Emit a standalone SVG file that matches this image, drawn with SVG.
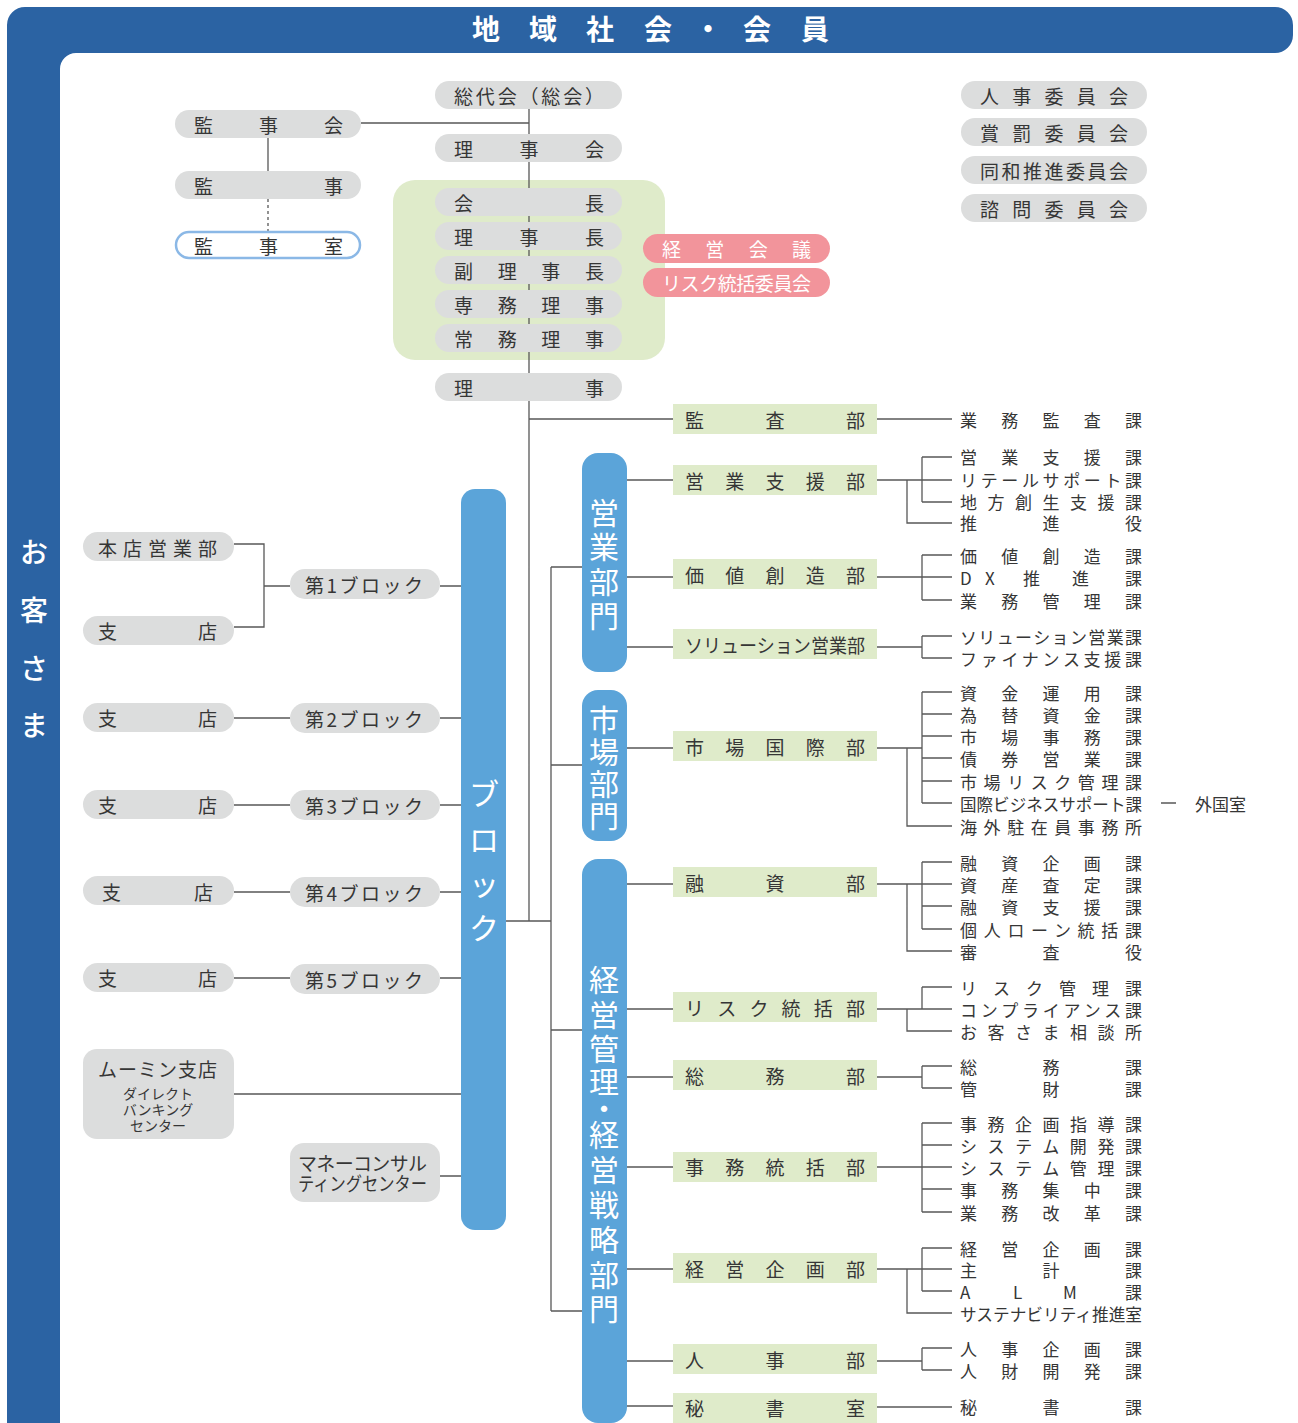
<svg xmlns="http://www.w3.org/2000/svg" width="1298" height="1423" viewBox="0 0 1298 1423">
<style>
.t{font-family:"Noto Sans CJK JP","Noto Sans",sans-serif;fill:#363636;font-size:19px;dominant-baseline:central}
.s{font-size:17px}
.v{font-size:30px}
.h{font-size:28px}
.m{font-size:14px}
.w{fill:#fff}
.p{fill:#dcdddd}
.g{fill:#dfebca}
.b{fill:#5ba4d9}
.k{fill:#f2949b}
.ln{stroke:#585858;stroke-width:1.3;fill:none}
</style>
<g id="frame">
<path d="M25 7H1275A18 18 0 0 1 1293 25V35A18 18 0 0 1 1275 53H76A16 16 0 0 0 60 69V1423H7V25A18 18 0 0 1 25 7Z" fill="#2b63a3"/>
<text class="t h w" font-weight="bold" text-anchor="middle" x="486 543 600 658 708 757 815" y="28">地域社会・会員</text>
<text class="t h w" font-weight="500" text-anchor="middle" x="34 34 34 34" y="551 609 667 724">お客さま</text>
</g>
<g id="exec-box"><rect class="g" x="393" y="180" width="272" height="180" rx="22"/></g>
<g id="connectors" class="ln">
<path d="M529 109V921M361 123H529M268 138V171M506 921H551M551 567V1311M551 567H582M551 765H582M551 1030H582M551 1311H582M529 419H673"/>
<path d="M268 199V232" stroke-dasharray="3 3"/>
<path d="M627 480H673M627 577H673M627 647H673M627 748H673M627 884H673M627 1009H673M627 1077H673M627 1167H673M627 1269H673M627 1361H673M627 1406H673"/>
<path d="M877 419H952"/>
<path d="M877 480H952M922 457V502M922 457H952M922 502H952M907 480V523H952"/>
<path d="M877 577H952M922 555V600M922 555H952M922 600H952"/>
<path d="M877 647H922M922 636V658M922 636H952M922 658H952"/>
<path d="M877 748H922M922 692V803M922 692H952M922 714H952M922 736H952M922 758H952M922 781H952M922 803H952M907 748V826H952M1161 803H1176"/>
<path d="M877 884H952M922 862V929M922 862H952M922 906H952M922 929H952M907 884V951H952"/>
<path d="M877 1009H952M922 987V1009M922 987H952M907 1009V1031H952"/>
<path d="M877 1077H922M922 1066V1088M922 1066H952M922 1088H952"/>
<path d="M877 1167H952M922 1123V1212M922 1123H952M922 1145H952M922 1189H952M922 1212H952"/>
<path d="M877 1269H952M922 1248V1291M922 1248H952M922 1291H952M907 1269V1313H952"/>
<path d="M877 1361H922M922 1348V1370M922 1348H952M922 1370H952"/>
<path d="M877 1407H952"/>
<path d="M234 544H264V627H234M264 586H290M440 586H461M234 718H290M440 718H461M234 805H290M440 805H461M234 892H290M440 892H461M234 978H290M440 978H461M234 1094H461M440 1176H461"/>
</g>
<g id="n-soudaikai"><rect class="p" x="435" y="81" width="187" height="28" rx="14"/><text class="t" x="454" y="95" textLength="150">総代会（総会）</text></g>
<g id="n-rijikai"><rect class="p" x="435" y="134" width="187" height="28" rx="14"/><text class="t" x="454" y="148" textLength="150">理事会</text></g>
<g id="n-kaicho"><rect class="p" x="435" y="188" width="187" height="28" rx="14"/><text class="t" x="454" y="202" textLength="150">会長</text></g>
<g id="n-rijicho"><rect class="p" x="435" y="222" width="187" height="28" rx="14"/><text class="t" x="454" y="236" textLength="150">理事長</text></g>
<g id="n-fukurijicho"><rect class="p" x="435" y="256" width="187" height="28" rx="14"/><text class="t" x="454" y="270" textLength="150">副理事長</text></g>
<g id="n-senmu"><rect class="p" x="435" y="290" width="187" height="28" rx="14"/><text class="t" x="454" y="304" textLength="150">専務理事</text></g>
<g id="n-jomu"><rect class="p" x="435" y="324" width="187" height="28" rx="14"/><text class="t" x="454" y="338" textLength="150">常務理事</text></g>
<g id="n-riji"><rect class="p" x="435" y="373" width="187" height="28" rx="14"/><text class="t" x="454" y="387" textLength="150">理事</text></g>
<g id="n-kanjikai"><rect class="p" x="175" y="110" width="186" height="28" rx="14"/><text class="t" x="194" y="124" textLength="149">監事会</text></g>
<g id="n-kanji"><rect class="p" x="175" y="171" width="186" height="28" rx="14"/><text class="t" x="194" y="185" textLength="149">監事</text></g>
<g id="n-kanjishitsu"><rect x="176" y="232" width="184" height="26" rx="13" fill="#fff" stroke="#8bb8e6" stroke-width="2.5"/><text class="t" x="194" y="245" textLength="149">監事室</text></g>
<g id="n-keieikaigi"><rect class="k" x="643" y="234" width="187" height="29" rx="14.5"/><text class="t w" x="662" y="248.5" textLength="149">経営会議</text></g>
<g id="n-risk-iinkai"><rect class="k" x="643" y="268" width="187" height="29" rx="14.5"/><text class="t w" x="662" y="282.5" textLength="149">リスク統括委員会</text></g>
<g id="n-jinji-iinkai"><rect class="p" x="961" y="81" width="186" height="28" rx="14"/><text class="t" x="980" y="95" textLength="148">人事委員会</text></g>
<g id="n-shobatsu"><rect class="p" x="961" y="118" width="186" height="28" rx="14"/><text class="t" x="980" y="132" textLength="148">賞罰委員会</text></g>
<g id="n-dowa"><rect class="p" x="961" y="156" width="186" height="28" rx="14"/><text class="t" x="980" y="170" textLength="148">同和推進委員会</text></g>
<g id="n-shimon"><rect class="p" x="961" y="194" width="186" height="28" rx="14"/><text class="t" x="980" y="208" textLength="148">諮問委員会</text></g>
<g id="d-eigyo"><rect class="b" x="582" y="453" width="45" height="219" rx="16"/><text class="t v w" text-anchor="middle" x="604 604 604 604" y="511 545 580 614">営業部門</text></g>
<g id="d-shijo"><rect class="b" x="582" y="690" width="45" height="151" rx="16"/><text class="t v w" text-anchor="middle" x="604 604 604 604" y="718 750 782 814">市場部門</text></g>
<g id="d-keiei"><rect class="b" x="582" y="859" width="45" height="564" rx="16"/><text class="t v w" text-anchor="middle" x="604 604 604 604 604 604 604 604 604 604 604" y="978 1013 1047 1080 1107 1133 1168 1203 1238 1273 1307">経営管理・経営戦略部門</text></g>
<g id="d-block"><rect class="b" x="461" y="489" width="45" height="741" rx="14"/><text class="t v w" text-anchor="middle" x="484 484 484 484" y="792 838 882 926">ブロック</text></g>
<g id="b-kansa"><rect class="g" x="673" y="404" width="204" height="30"/><text class="t" x="685" y="419" textLength="180">監査部</text></g>
<g id="b-eigyoshien"><rect class="g" x="673" y="465" width="204" height="30"/><text class="t" x="685" y="480" textLength="180">営業支援部</text></g>
<g id="b-kachi"><rect class="g" x="673" y="559" width="204" height="30"/><text class="t" x="685" y="574" textLength="180">価値創造部</text></g>
<g id="b-solution"><rect class="g" x="673" y="629" width="204" height="30"/><text class="t" x="685" y="644" textLength="180" lengthAdjust="spacingAndGlyphs">ソリューション営業部</text></g>
<g id="b-shijokokusai"><rect class="g" x="673" y="731" width="204" height="30"/><text class="t" x="685" y="746" textLength="180">市場国際部</text></g>
<g id="b-yushi"><rect class="g" x="673" y="867" width="204" height="30"/><text class="t" x="685" y="882" textLength="180">融資部</text></g>
<g id="b-risk"><rect class="g" x="673" y="992" width="204" height="30"/><text class="t" x="685" y="1007" textLength="180">リスク統括部</text></g>
<g id="b-somu"><rect class="g" x="673" y="1060" width="204" height="30"/><text class="t" x="685" y="1075" textLength="180">総務部</text></g>
<g id="b-jimu"><rect class="g" x="673" y="1152" width="204" height="30"/><text class="t" x="685" y="1166" textLength="180">事務統括部</text></g>
<g id="b-keieikikaku"><rect class="g" x="673" y="1253" width="204" height="30"/><text class="t" x="685" y="1268" textLength="180">経営企画部</text></g>
<g id="b-jinji"><rect class="g" x="673" y="1344" width="204" height="30"/><text class="t" x="685" y="1359" textLength="180">人事部</text></g>
<g id="b-hisho"><rect class="g" x="673" y="1393" width="204" height="30"/><text class="t" x="685" y="1407" textLength="180">秘書室</text></g>
<g id="sections">
<text class="t s" x="960" y="419" textLength="182">業務監査課</text>
<text class="t s" x="960" y="456" textLength="182">営業支援課</text>
<text class="t s" x="960" y="479" textLength="182">リテールサポート課</text>
<text class="t s" x="960" y="501" textLength="182">地方創生支援課</text>
<text class="t s" x="960" y="522" textLength="182">推進役</text>
<text class="t s" x="960" y="555" textLength="182">価値創造課</text>
<text class="t s" x="960 985 1023 1072 1125" y="577">DX推進課</text>
<text class="t s" x="960" y="600" textLength="182">業務管理課</text>
<text class="t s" x="960" y="636" textLength="182">ソリューション営業課</text>
<text class="t s" x="960" y="658" textLength="182">ファイナンス支援課</text>
<text class="t s" x="960" y="692" textLength="182">資金運用課</text>
<text class="t s" x="960" y="714" textLength="182">為替資金課</text>
<text class="t s" x="960" y="736" textLength="182">市場事務課</text>
<text class="t s" x="960" y="758" textLength="182">債券営業課</text>
<text class="t s" x="960" y="781" textLength="182">市場リスク管理課</text>
<text class="t s" x="960" y="803" textLength="182" lengthAdjust="spacingAndGlyphs">国際ビジネスサポート課</text>
<text class="t s" x="1195" y="803">外国室</text>
<text class="t s" x="960" y="826" textLength="182">海外駐在員事務所</text>
<text class="t s" x="960" y="862" textLength="182">融資企画課</text>
<text class="t s" x="960" y="884" textLength="182">資産査定課</text>
<text class="t s" x="960" y="906" textLength="182">融資支援課</text>
<text class="t s" x="960" y="929" textLength="182">個人ローン統括課</text>
<text class="t s" x="960" y="951" textLength="182">審査役</text>
<text class="t s" x="960" y="987" textLength="182">リスク管理課</text>
<text class="t s" x="960" y="1009" textLength="182">コンプライアンス課</text>
<text class="t s" x="960" y="1031" textLength="182">お客さま相談所</text>
<text class="t s" x="960" y="1066" textLength="182">総務課</text>
<text class="t s" x="960" y="1088" textLength="182">管財課</text>
<text class="t s" x="960" y="1123" textLength="182">事務企画指導課</text>
<text class="t s" x="960" y="1145" textLength="182">システム開発課</text>
<text class="t s" x="960" y="1167" textLength="182">システム管理課</text>
<text class="t s" x="960" y="1189" textLength="182">事務集中課</text>
<text class="t s" x="960" y="1212" textLength="182">業務改革課</text>
<text class="t s" x="960" y="1248" textLength="182">経営企画課</text>
<text class="t s" x="960" y="1269" textLength="182">主計課</text>
<text class="t s" x="960 1013 1063 1125" y="1291">ALM課</text>
<text class="t s" x="960" y="1313" textLength="182" lengthAdjust="spacingAndGlyphs">サステナビリティ推進室</text>
<text class="t s" x="960" y="1348" textLength="182">人事企画課</text>
<text class="t s" x="960" y="1370" textLength="182">人財開発課</text>
<text class="t s" x="960" y="1406" textLength="182">秘書課</text>
</g>
<g id="n-honten"><rect class="p" x="83" y="532" width="151" height="29" rx="14.5"/><text class="t" x="98" y="547" textLength="119">本店営業部</text></g>
<g id="n-shiten1"><rect class="p" x="83" y="616" width="151" height="29" rx="14.5"/><text class="t" x="98" y="630" textLength="119">支店</text></g>
<g id="n-shiten2"><rect class="p" x="83" y="703" width="151" height="29" rx="14.5"/><text class="t" x="98" y="717" textLength="119">支店</text></g>
<g id="n-shiten3"><rect class="p" x="83" y="790" width="151" height="29" rx="14.5"/><text class="t" x="98" y="804" textLength="119">支店</text></g>
<g id="n-shiten4"><rect class="p" x="83" y="876" width="151" height="29" rx="14.5"/><text class="t" x="102" y="891" textLength="111">支店</text></g>
<g id="n-shiten5"><rect class="p" x="83" y="963" width="151" height="29" rx="14.5"/><text class="t" x="98" y="977" textLength="119">支店</text></g>
<g id="n-block1"><rect class="p" x="290" y="569" width="150" height="30" rx="15"/><text class="t" x="305" y="584" textLength="118">第1ブロック</text></g>
<g id="n-block2"><rect class="p" x="290" y="703" width="150" height="30" rx="15"/><text class="t" x="305" y="718" textLength="118">第2ブロック</text></g>
<g id="n-block3"><rect class="p" x="290" y="790" width="150" height="30" rx="15"/><text class="t" x="305" y="805" textLength="118">第3ブロック</text></g>
<g id="n-block4"><rect class="p" x="290" y="877" width="150" height="30" rx="15"/><text class="t" x="305" y="892" textLength="118">第4ブロック</text></g>
<g id="n-block5"><rect class="p" x="290" y="964" width="150" height="30" rx="15"/><text class="t" x="305" y="979" textLength="118">第5ブロック</text></g>
<g id="n-moomin"><rect class="p" x="83" y="1049" width="151" height="90" rx="14"/><text class="t" x="98" y="1068" textLength="119">ムーミン支店</text><text class="t m" text-anchor="middle" x="158" y="1093">ダイレクト</text><text class="t m" text-anchor="middle" x="158" y="1109">バンキング</text><text class="t m" text-anchor="middle" x="158" y="1125">センター</text></g>
<g id="n-money"><rect class="p" x="290" y="1143" width="150" height="59" rx="14"/><text class="t" x="298" y="1162" textLength="129">マネーコンサル</text><text class="t" x="298" y="1182" textLength="129" lengthAdjust="spacingAndGlyphs">ティングセンター</text></g>
</svg>
